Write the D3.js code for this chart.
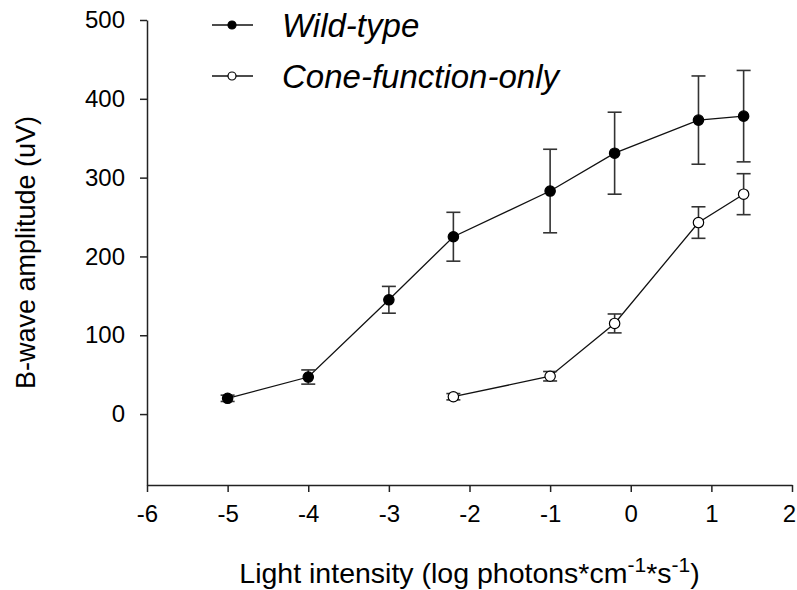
<!DOCTYPE html>
<html>
<head>
<meta charset="utf-8">
<script src="https://cdn.jsdelivr.net/npm/d3@7"></script>
<style>
  body { margin: 0; background: #fff; }
  svg { display: block; font-family: "Liberation Sans", Arial, sans-serif; }
</style>
</head>
<body>
<div id="chart"></div>
<script>
// Light intensity (log photons) per point
const wildX = [-5, -4, -3, -2.2, -1, -0.2, 0.84, 1.4];
const wildY = [20, 47, 145, 225, 283, 331, 373, 378];
const wildErr = [4, 9, 17, 31, 53, 52, 56, 58];

const coneX = [-2.2, -1, -0.2, 0.84, 1.4];
const coneY = [22, 48, 115, 243, 279];
const coneErr = [4, 6, 12, 20, 26];

const xTicks = [-6, -5, -4, -3, -2, -1, 0, 1, 2];
const yTicks = [0, 100, 200, 300, 400, 500];

const series = [
  { name: 'Wild-type', xs: wildX, ys: wildY, err: wildErr, fill: '#000' },
  { name: 'Cone-function-only', xs: coneX, ys: coneY, err: coneErr, fill: '#fff' }
];

const width = 797;
const height = 590;
const axisColor = '#222';
const fontFamily = '"Liberation Sans", Arial, sans-serif';

const svg = d3.select('#chart')
  .append('svg')
  .attr('width', width)
  .attr('height', height);

// Scales
const x = d3.scaleLinear().domain([-6, 2]).range([147, 792]);
const y = d3.scaleLinear().domain([-90, 500]).range([485, 20]);

// plain hyphen for negatives, like the original
const fmt = (d) => String(d);

// X axis
svg.append('g')
  .attr('transform', `translate(0,${y(-90)})`)
  .call(d3.axisBottom(x).tickValues(xTicks).tickFormat(fmt).tickSize(7).tickSizeOuter(0).tickPadding(13))
  .call((g) => g.select('.domain').attr('stroke', axisColor).attr('stroke-width', 1.5))
  .call((g) => g.selectAll('.tick line').attr('stroke', axisColor).attr('stroke-width', 1.5))
  .call((g) => g.selectAll('.tick text')
    .attr('fill', '#000')
    .attr('font-size', 24)
    .attr('font-family', fontFamily));

// the last label sits against the right edge in the original too
svg.selectAll('.tick text').filter((d) => d === 2).attr('dx', -3);

// Y axis
svg.append('g')
  .attr('transform', `translate(${x(-6)},0)`)
  .call(d3.axisLeft(y).tickValues(yTicks).tickFormat(fmt).tickSize(7).tickSizeOuter(0).tickPadding(15))
  .call((g) => g.select('.domain').attr('stroke', axisColor).attr('stroke-width', 1.5))
  .call((g) => g.selectAll('.tick line').attr('stroke', axisColor).attr('stroke-width', 1.5))
  .call((g) => g.selectAll('.tick text')
    .attr('fill', '#000')
    .attr('font-size', 24)
    .attr('font-family', fontFamily));

// Axis titles
svg.append('text')
  .attr('transform', `translate(35,${(y(500) + y(-90)) / 2}) rotate(-90)`)
  .attr('text-anchor', 'middle')
  .attr('font-size', 27)
  .text('B-wave amplitude (uV)');

const xTitle = svg.append('text')
  .attr('x', (x(-6) + x(2)) / 2)
  .attr('y', 583)
  .attr('text-anchor', 'middle')
  .attr('font-size', 28.5);
xTitle.append('tspan').text('Light intensity (log photons*cm');
xTitle.append('tspan').attr('dy', -11).attr('font-size', 21).text('-1');
xTitle.append('tspan').attr('dy', 11).text('*s');
xTitle.append('tspan').attr('dy', -11).attr('font-size', 21).text('-1');
xTitle.append('tspan').attr('dy', 11).text(')');

const line = d3.line()
  .x((d) => x(d[0]))
  .y((d) => y(d[1]));

series.forEach((s) => {
  const pts = s.xs.map((v, i) => [v, s.ys[i], s.err[i]]);
  const g = svg.append('g');

  // Connecting line
  g.append('path')
    .attr('fill', 'none')
    .attr('stroke', '#111')
    .attr('stroke-width', 1.3)
    .attr('d', line(pts));

  // Error bars
  const eb = g.selectAll('.err').data(pts).join('g').attr('class', 'err');
  eb.append('line')
    .attr('x1', (d) => x(d[0])).attr('x2', (d) => x(d[0]))
    .attr('y1', (d) => y(d[1] - d[2])).attr('y2', (d) => y(d[1] + d[2]))
    .attr('stroke', '#333').attr('stroke-width', 1.6);
  [-1, 1].forEach((sign) => {
    eb.append('line')
      .attr('x1', (d) => x(d[0]) - 7).attr('x2', (d) => x(d[0]) + 7)
      .attr('y1', (d) => y(d[1] + sign * d[2])).attr('y2', (d) => y(d[1] + sign * d[2]))
      .attr('stroke', '#333').attr('stroke-width', 1.6);
  });

  // Markers
  g.selectAll('circle').data(pts).join('circle')
    .attr('cx', (d) => x(d[0]))
    .attr('cy', (d) => y(d[1]))
    .attr('r', 5.2)
    .attr('fill', s.fill)
    .attr('stroke', '#000')
    .attr('stroke-width', 1.2);
});

// Legend
const legend = svg.append('g');
series.forEach((s, i) => {
  const ly = 25 + i * 51;
  legend.append('line')
    .attr('x1', 212).attr('x2', 253)
    .attr('y1', ly).attr('y2', ly)
    .attr('stroke', '#111').attr('stroke-width', 1.3);
  legend.append('circle')
    .attr('cx', 232).attr('cy', ly).attr('r', 4)
    .attr('fill', s.fill).attr('stroke', '#000').attr('stroke-width', 1.2);
  legend.append('text')
    .attr('x', 282).attr('y', ly + 12)
    .attr('font-size', 33)
    .attr('font-style', 'italic')
    .text(s.name);
});
</script>
</body>
</html>
